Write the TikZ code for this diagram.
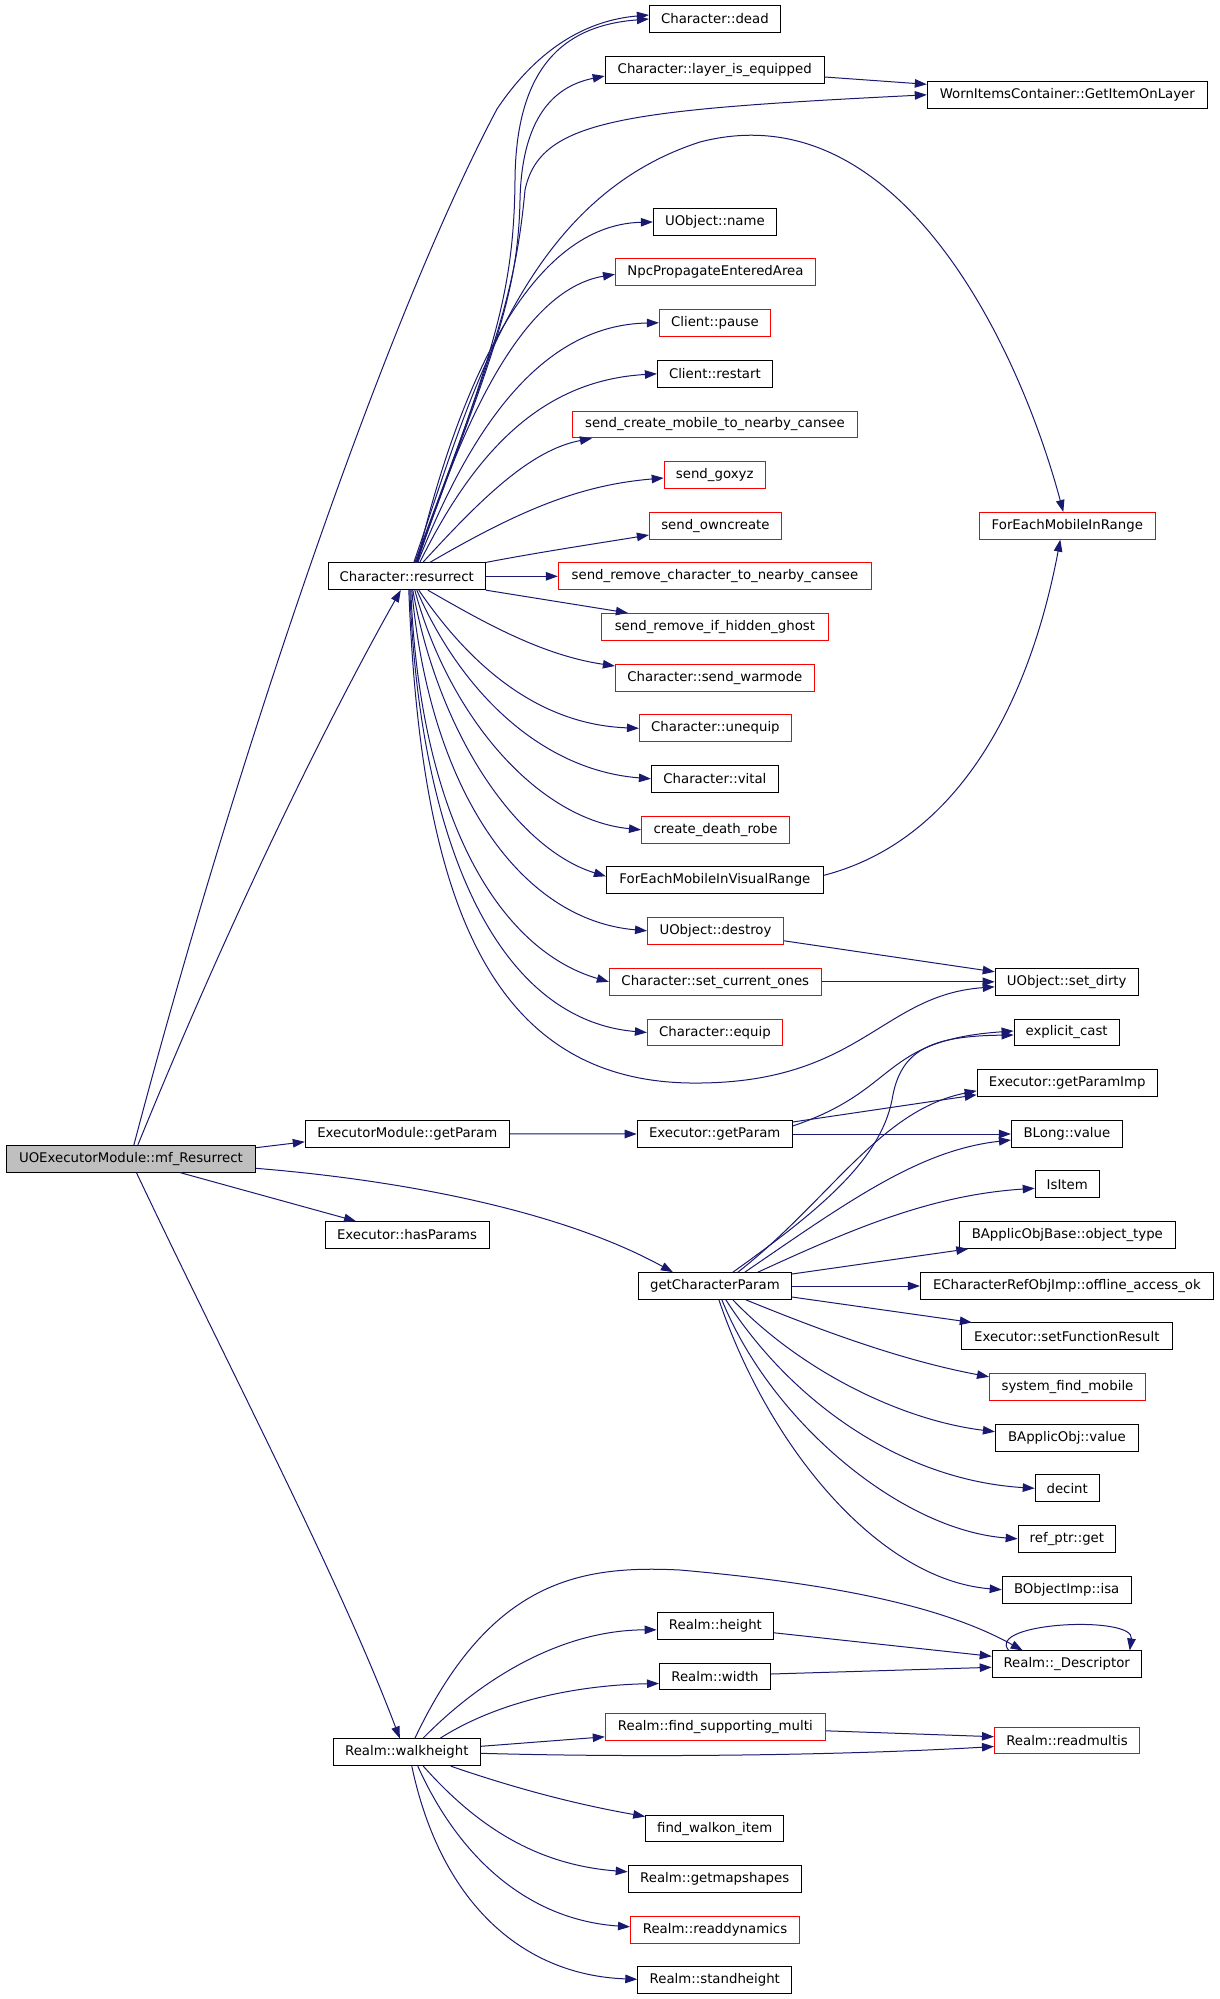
\documentclass[tikz,border=0pt]{standalone}
\usepackage{fontspec}
\setmainfont{DejaVu Sans}
\usetikzlibrary{arrows.meta}
\definecolor{navy}{HTML}{191970}
\definecolor{grayfill}{HTML}{BFBFBF}
\begin{document}
\begin{tikzpicture}[x=1pt,y=-1pt,
  box/.style={draw=black, line width=1pt, fill=white, minimum height=26.7pt, inner sep=0pt, font=\fontsize{13.3pt}{16pt}\selectfont, text=black},
  rbox/.style={box, draw=red},
  cl/.style={draw=navy, line width=1pt, -{Triangle[length=12pt,width=8.5pt]}}]
\useasboundingbox[fill=white] (0,0) rectangle (1219,1999);
% nodes
\node[box, fill=grayfill, minimum width=249pt] (mf) at (130.9,1158.7) {UOExecutorModule::mf\_Resurrect};
\node[box, minimum width=157pt] (res) at (406.8,576.3) {Character::resurrect};
\node[box, minimum width=131pt] (dead) at (714.9,19) {Character::dead};
\node[box, minimum width=219pt] (layer) at (714.7,70) {Character::layer\_is\_equipped};
\node[box, minimum width=280pt] (worn) at (1067.3,94.8) {WornItemsContainer::GetItemOnLayer};
\node[box, minimum width=123pt] (name) at (714.9,222) {UObject::name};
\node[rbox, minimum width=200pt] (npc) at (715.5,272.3) {NpcPropagateEnteredArea};
\node[rbox, minimum width=111pt] (pause) at (714.9,322.8) {Client::pause};
\node[box, minimum width=115pt] (restart) at (714.9,373.8) {Client::restart};
\node[rbox, minimum width=285pt] (screate) at (714.9,424.5) {send\_create\_mobile\_to\_nearby\_cansee};
\node[rbox, minimum width=101pt] (goxyz) at (714.7,475) {send\_goxyz};
\node[rbox, minimum width=132pt] (own) at (715.4,526) {send\_owncreate};
\node[rbox, minimum width=313pt] (rmchar) at (714.9,576.3) {send\_remove\_character\_to\_nearby\_cansee};
\node[rbox, minimum width=227pt] (ghost) at (714.9,626.8) {send\_remove\_if\_hidden\_ghost};
\node[rbox, minimum width=199pt] (warm) at (714.9,678) {Character::send\_warmode};
\node[rbox, minimum width=152pt] (uneq) at (715.4,728.3) {Character::unequip};
\node[box, minimum width=127pt] (vital) at (714.9,778.8) {Character::vital};
\node[rbox, minimum width=148pt] (robe) at (715.5,829.8) {create\_death\_robe};
\node[box, minimum width=217pt] (visual) at (714.9,880.3) {ForEachMobileInVisualRange};
\node[rbox, minimum width=136pt] (destroy) at (715.5,930.8) {UObject::destroy};
\node[rbox, minimum width=212pt] (setcur) at (715.3,981.8) {Character::set\_current\_ones};
\node[rbox, minimum width=135pt] (equip) at (714.9,1032.5) {Character::equip};
\node[rbox, minimum width=176pt] (ferange) at (1067.3,525.8) {ForEachMobileInRange};
\node[box, minimum width=143pt] (dirty) at (1066.7,981.8) {UObject::set\_dirty};
\node[box, minimum width=105pt] (cast) at (1066.6,1032.5) {explicit\_cast};
\node[box, minimum width=180pt] (gpimp) at (1067.2,1082.8) {Executor::getParamImp};
\node[box, minimum width=111pt] (blong) at (1066.9,1134) {BLong::value};
\node[box, minimum width=64pt] (isitem) at (1067.2,1184.3) {IsItem};
\node[box, minimum width=216pt] (objtype) at (1067.3,1235) {BApplicObjBase::object\_type};
\node[box, minimum width=293pt] (offline) at (1066.9,1286) {ECharacterRefObjImp::offline\_access\_ok};
\node[box, minimum width=211pt] (setfunc) at (1066.8,1336.3) {Executor::setFunctionResult};
\node[rbox, minimum width=156pt] (sysfind) at (1067.5,1386.8) {system\_find\_mobile};
\node[box, minimum width=143pt] (bapp) at (1066.9,1437.7) {BApplicObj::value};
\node[box, minimum width=64pt] (decint) at (1067.2,1488.3) {decint};
\node[box, minimum width=97.5pt] (refget) at (1066.9,1538.8) {ref\_ptr::get};
\node[box, minimum width=129pt] (isa) at (1066.7,1589.7) {BObjectImp::isa};
\node[box, minimum width=149pt] (desc) at (1066.7,1664.3) {Realm::\_Descriptor};
\node[rbox, minimum width=145pt] (readm) at (1067,1740.5) {Realm::readmultis};
\node[box, minimum width=204pt] (emgp) at (407.3,1133.8) {ExecutorModule::getParam};
\node[box, minimum width=164pt] (hasp) at (407,1235) {Executor::hasParams};
\node[box, minimum width=155pt] (egp) at (714.7,1134) {Executor::getParam};
\node[box, minimum width=153pt] (gcp) at (714.9,1286) {getCharacterParam};
\node[box, minimum width=147pt] (walk) at (406.8,1752.3) {Realm::walkheight};
\node[box, minimum width=116.5pt] (height) at (715.4,1625.8) {Realm::height};
\node[box, minimum width=111pt] (width) at (715,1676.5) {Realm::width};
\node[rbox, minimum width=220pt] (fsm) at (715.3,1726.8) {Realm::find\_supporting\_multi};
\node[box, minimum width=138pt] (walkon) at (714.7,1828.5) {find\_walkon\_item};
\node[box, minimum width=173pt] (maps) at (714.7,1878.8) {Realm::getmapshapes};
\node[rbox, minimum width=169pt] (readdyn) at (715,1929.8) {Realm::readdynamics};
\node[box, minimum width=154pt] (stand) at (714.8,1980.3) {Realm::standheight};
% edges from mf
\draw[cl] ([xshift=7pt]mf.north) .. controls (250,870) and (350,680) .. ([xshift=-6pt]res.south);
\draw[cl] ([xshift=3pt]mf.north) .. controls (230,780) and (380,330) .. (497,109) .. controls (540,45) and (590,20) .. ([yshift=4pt]dead.west);
\draw[cl] ([yshift=11pt]mf.east) -- ([yshift=-8pt]emgp.west);
\draw[cl] ([xshift=49pt]mf.south) -- ([xshift=-51pt]hasp.north);
\draw[cl] ([yshift=-9.6pt]mf.east) .. controls (400,1180) and (560,1210) .. ([xshift=-42pt]gcp.north);
\draw[cl] ([xshift=5.5pt]mf.south) .. controls (230,1370) and (340,1580) .. ([xshift=-7pt]walk.north);
% executor getParam
\draw[cl] (emgp.east) -- (egp.west);
\draw[cl] ([yshift=8pt]egp.east) .. controls (900,1090) and (880,1040) .. ([yshift=1.5pt]cast.west);
\draw[cl] ([yshift=12pt]egp.east) -- ([yshift=-12pt]gpimp.west);
\draw[cl] (egp.east) -- (blong.west);
% getCharacterParam
\draw[cl] ([xshift=18pt]gcp.north) .. controls (820,1210) and (880,1160) .. (892,1100) .. controls (900,1050) and (930,1036) .. ([yshift=-2.5pt]cast.west);
\draw[cl] ([xshift=23pt]gcp.north) .. controls (830,1200) and (880,1110) .. ([yshift=-8pt]gpimp.west);
\draw[cl] ([xshift=30pt]gcp.north) .. controls (850,1200) and (920,1150) .. ([yshift=-6pt]blong.west);
\draw[cl] ([xshift=43pt]gcp.north) .. controls (850,1230) and (930,1195) .. ([yshift=-4pt]isitem.west);
\draw[cl] ([yshift=12pt]gcp.east) -- ([xshift=-99pt]objtype.south);
\draw[cl] (gcp.east) -- (offline.west);
\draw[cl] ([yshift=-11pt]gcp.east) -- ([xshift=-95pt]setfunc.north);
\draw[cl] ([xshift=31pt]gcp.south) .. controls (820,1330) and (900,1360) .. ([yshift=10pt]sysfind.west);
\draw[cl] ([xshift=18pt]gcp.south) .. controls (800,1370) and (900,1420) .. ([yshift=6pt]bapp.west);
\draw[cl] ([xshift=11pt]gcp.south) .. controls (790,1400) and (900,1480) .. (decint.west);
\draw[cl] ([xshift=7pt]gcp.south) .. controls (770,1420) and (900,1530) .. (refget.west);
\draw[cl] ([xshift=4pt]gcp.south) .. controls (770,1450) and (880,1580) .. (isa.west);
% resurrect fan
\draw[cl] ([xshift=9pt]res.north) .. controls (490,360) and (514,300) .. (515,180) .. controls (516,60) and (570,25) .. (dead.west);
\draw[cl] ([xshift=9.5pt]res.north) .. controls (490,360) and (518,300) .. (520,200) .. controls (522,110) and (560,85) .. ([yshift=-6pt]layer.west);
\draw[cl] ([xshift=8pt]res.north) .. controls (490,360) and (515,300) .. (525,190) .. controls (540,120) and (620,110) .. (worn.west);
\draw[cl] ([xshift=7pt]res.north) .. controls (470,400) and (520,200) .. (700,142) .. controls (900,90) and (1020,350) .. ([xshift=-4pt]ferange.north);
\draw[cl] ([xshift=10pt]res.north) .. controls (455,400) and (525,225) .. (name.west);
\draw[cl] ([xshift=10.5pt]res.north) .. controls (460,430) and (520,290) .. ([yshift=-2pt]npc.west);
\draw[cl] ([xshift=11pt]res.north) .. controls (470,430) and (540,325) .. (pause.west);
\draw[cl] ([xshift=13pt]res.north) .. controls (480,440) and (550,380) .. (restart.west);
\draw[cl] ([xshift=16pt]res.north) .. controls (480,500) and (530,450) .. ([xshift=-123pt]screate.south);
\draw[cl] ([xshift=23pt]res.north) .. controls (520,510) and (580,485) .. ([yshift=-3pt]goxyz.west);
\draw[cl] (res.north east) .. controls (540,552) and (600,543) .. ([yshift=-9pt]own.west);
\draw[cl] (res.east) -- (rmchar.west);
\draw[cl] (res.south east) -- ([xshift=-87pt]ghost.north);
\draw[cl] ([xshift=21pt]res.south) .. controls (480,620) and (540,655) .. ([yshift=12pt]warm.west);
\draw[cl] ([xshift=12pt]res.south) .. controls (480,680) and (550,725) .. (uneq.west);
\draw[cl] ([xshift=10pt]res.south) .. controls (460,690) and (540,770) .. (vital.west);
\draw[cl] ([xshift=8pt]res.south) .. controls (450,720) and (540,820) .. (robe.west);
\draw[cl] ([xshift=6pt]res.south) .. controls (440,740) and (520,850) .. ([yshift=4pt]visual.west);
\draw[cl] ([xshift=5pt]res.south) .. controls (430,790) and (520,920) .. (destroy.west);
\draw[cl] ([xshift=4pt]res.south) .. controls (420,820) and (500,950) .. (setcur.west);
\draw[cl] ([xshift=3pt]res.south) .. controls (420,850) and (500,1020) .. (equip.west);
\draw[cl] ([xshift=2pt]res.south) .. controls (420,880) and (480,1080) .. (690,1083) .. controls (860,1085) and (880,995) .. ([yshift=-5pt]dirty.west);
% secondary
\draw[cl] ([yshift=-10pt]destroy.east) -- ([yshift=10pt]dirty.west);
\draw[cl] (setcur.east) -- (dirty.west);
\draw[cl] ([yshift=-7pt]layer.east) -- ([yshift=10.5pt]worn.west);
\draw[cl] ([yshift=5pt]visual.east) .. controls (960,840) and (1030,700) .. ([xshift=-7pt]ferange.south);
% walkheight
\draw[cl] ([xshift=8pt]walk.north) .. controls (490,1580) and (580,1565) .. (680,1570) .. controls (850,1585) and (950,1610) .. ([xshift=-44pt]desc.north);
\draw[cl] ([xshift=16pt]walk.north) .. controls (480,1680) and (560,1630) .. ([yshift=-4pt]height.west);
\draw[cl] ([xshift=33pt]walk.north) .. controls (500,1700) and (580,1685) .. ([yshift=-7pt]width.west);
\draw[cl] ([yshift=6pt]walk.east) -- ([yshift=-10pt]fsm.west);
\draw[cl] ([yshift=-1pt]walk.east) .. controls (650,1758) and (850,1755) .. ([yshift=-6pt]readm.west);
\draw[cl] ([yshift=-4pt]fsm.east) -- ([yshift=3.8pt]readm.west);
\draw[cl] ([yshift=-7pt]height.east) -- ([yshift=8pt]desc.west);
\draw[cl] ([yshift=2.5pt]width.east) -- ([yshift=-3pt]desc.west);
\draw[cl] ([xshift=-58pt]desc.north) .. controls (985,1622) and (1135,1615) .. ([xshift=63pt]desc.north);
\draw[cl] ([xshift=44pt]walk.south) .. controls (520,1790) and (580,1805) .. ([yshift=12pt]walkon.west);
\draw[cl] ([xshift=16.5pt]walk.south) .. controls (480,1830) and (540,1865) .. ([yshift=7pt]maps.west);
\draw[cl] ([xshift=11pt]walk.south) .. controls (460,1860) and (530,1920) .. ([yshift=3pt]readdyn.west);
\draw[cl] ([xshift=5pt]walk.south) .. controls (440,1900) and (520,1975) .. ([yshift=1pt]stand.west);
\end{tikzpicture}
\end{document}
